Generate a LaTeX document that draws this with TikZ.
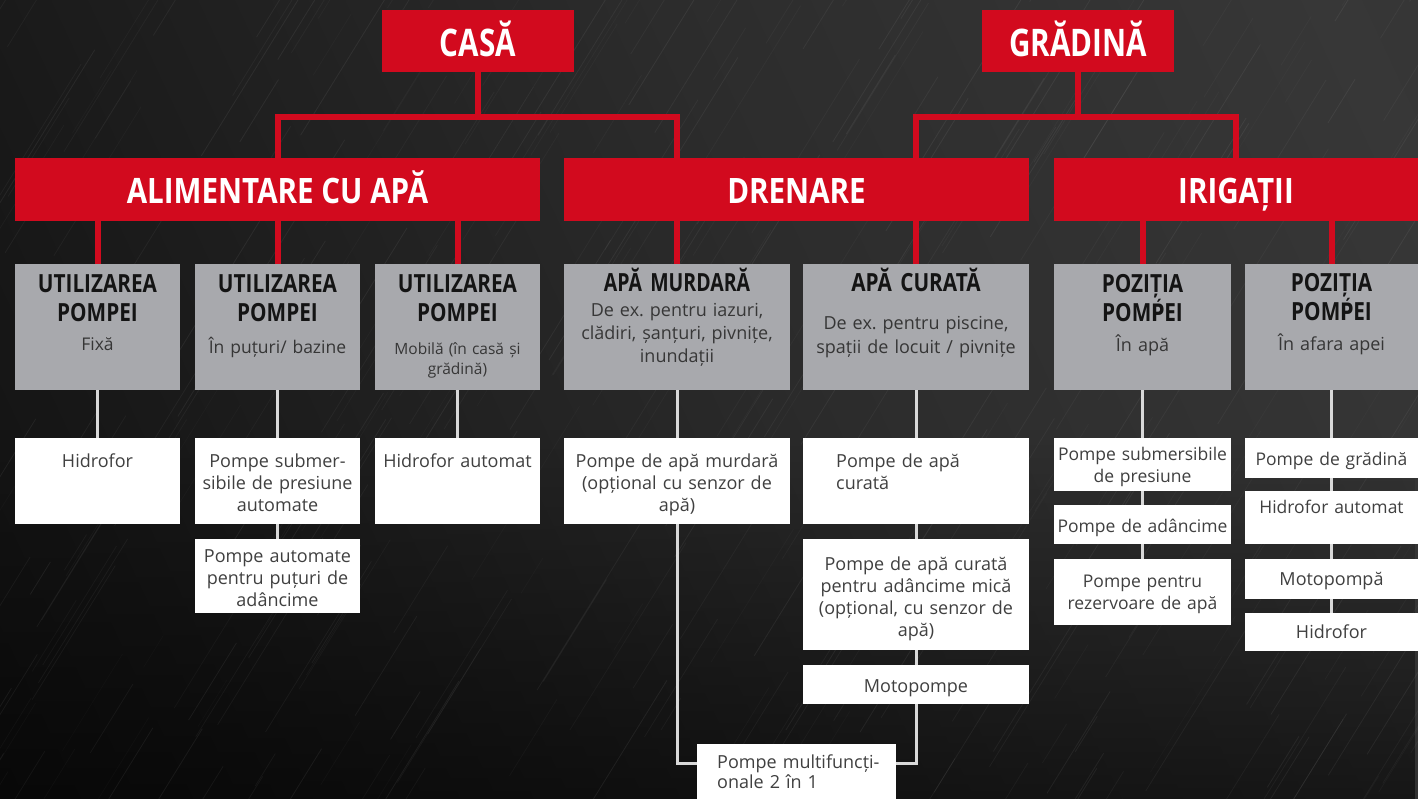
\documentclass[tikz,border=0pt]{standalone}
\usepackage{fontspec}
\setmainfont{Open Sans}
\newfontfamily\condfont{Open Sans}[FakeStretch=0.78]
\newfontfamily\condmid{Open Sans}[FakeStretch=0.83]
\newfontfamily\condwide{Open Sans}[FakeStretch=0.845]
\newfontfamily\djvcond{DejaVu Sans}[FakeStretch=0.74]
\usetikzlibrary{fadings}
\definecolor{brandred}{HTML}{D20A1E}
\definecolor{boxgrey}{HTML}{A8A9AD}
\definecolor{txtgrey}{HTML}{404040}
\definecolor{subgrey}{HTML}{363636}
\definecolor{titledark}{HTML}{141414}
\definecolor{wlinecol}{HTML}{D9D9D9}
\definecolor{bgA}{HTML}{0A0A0A}
\definecolor{bgB}{HTML}{161616}
\definecolor{bgC}{HTML}{2C2C2C}
\definecolor{bgD}{HTML}{373737}
\definecolor{bgE}{HTML}{2E2E2E}
\pgfdeclarehorizontalshading{bgshade}{100bp}{color(0bp)=(bgA); color(25bp)=(bgB); color(55bp)=(bgC); color(80bp)=(bgD); color(100bp)=(bgE)}
\tikzfading[name=fadeup, top color=transparent!100, bottom color=transparent!0]
\newcommand\Pacute{{\djvcond\bfseries\fontsize{24}{25}\selectfont Ṕ}}
\tikzset{
  sz/.style 2 args={minimum width=#1pt, minimum height=#2pt},
  redbox/.style={fill=brandred, inner sep=0pt, outer sep=0pt, anchor=north west, text=white,
    font=\condwide\bfseries\fontsize{35}{40}\selectfont, text height=30pt, text depth=1pt},
  topbox/.style={redbox, font=\condfont\bfseries\fontsize{38}{42}\selectfont, text height=33pt, text depth=1pt},
  greybox/.style={fill=boxgrey, inner sep=0pt, outer sep=0pt, anchor=north west},
  whitebox/.style={fill=white, inner sep=0pt, outer sep=0pt, anchor=north west},
  gtitle/.style={font=\condmid\bfseries\fontsize{25}{29}\selectfont, text=titledark, align=center,
    text width=180pt, inner sep=0pt, anchor=base},
  gsub/.style={font=\frenchspacing\fontsize{17.5}{23}\selectfont, text=subgrey, align=center,
    text width=230pt, inner sep=0pt, anchor=base},
  wtxt/.style={font=\fontsize{18}{22}\selectfont, text=txtgrey, align=center,
    text width=220pt, inner sep=0pt, anchor=base},
  redline/.style={draw=brandred, line width=6pt},
  whiteline/.style={draw=wlinecol, line width=3pt}
}
\begin{document}
\begin{tikzpicture}[x=1pt,y=-1pt]
\useasboundingbox (0,0) rectangle (1418,799);
% background
\shade[shading=bgshade, shading angle=25] (0,0) rectangle (1418,799);
\fill[black, opacity=0.55, path fading=fadeup] (0,430) rectangle (1418,799);
\begin{scope}
\clip (0,0) rectangle (1418,799);
\pgfmathsetseed{11}
\foreach \i in {1,...,450}{
  \pgfmathsetmacro\sx{rnd*1800-300}
  \pgfmathsetmacro\sy{rnd*950}
  \pgfmathsetmacro\len{30+rnd*160}
  \pgfmathsetmacro\op{0.02+rnd*0.045}
  \draw[white, opacity=\op, line width=0.8pt] (\sx,\sy) -- ++(0.62*\len,-\len);
}
\end{scope}

% top level
\node[topbox, sz={192}{62}] (casa) at (382,10) {CASĂ};
\node[topbox, sz={192}{62}] (gradina) at (982,10) {GRĂDINĂ};
% second level
\node[redbox, sz={525}{63}] (alim) at (15,158) {ALIMENTARE CU APĂ};
\node[redbox, sz={465}{63}] (dren) at (564,158) {DRENARE};
\node[redbox, sz={364}{63}] (irig) at (1054,158) {IRIGAȚII};

% grey boxes
\node[greybox, sz={165}{126}] (g1) at (15,264) {};
\node[greybox, sz={165}{126}] (g2) at (195,264) {};
\node[greybox, sz={165}{126}] (g3) at (375,264) {};
\node[greybox, sz={226}{126}] (g4) at (564,264) {};
\node[greybox, sz={226}{126}] (g5) at (803,264) {};
\node[greybox, sz={177}{126}] (g6) at (1054,264) {};
\node[greybox, sz={173}{126}] (g7) at (1245,264) {};

\node[gtitle] (g1t) at (g1.north |- 0,293) {UTILIZAREA\\POMPEI};
\node[gsub] (g1s) at (g1.north |- 0,351) {Fixă};
\node[gtitle] (g2t) at (g2.north |- 0,293) {UTILIZAREA\\POMPEI};
\node[gsub] (g2s) at (g2.north |- 0,353) {În puțuri/ bazine};
\node[gtitle] (g3t) at (g3.north |- 0,293) {UTILIZAREA\\POMPEI};
\node[gsub, font=\fontsize{15.5}{20}\selectfont] (g3s) at (g3.north |- 0,355) {Mobilă (în casă și\\grădină)};
\node[gtitle, text width=220pt, font=\condfont\bfseries\fontsize{25}{29}\selectfont] (g4t) at (g4.north |- 0,292) {APĂ MURDARĂ};
\node[gsub, text=titledark!85, font=\frenchspacing\fontsize{18}{23}\selectfont] (g4s) at (g4.north |- 0,317) {De ex. pentru iazuri,\\clădiri, șanțuri, pivnițe,\\inundații};
\node[gtitle, text width=220pt] (g5t) at (g5.north |- 0,292) {APĂ CURATĂ};
\node[gsub, font=\frenchspacing\fontsize{18}{24}\selectfont] (g5s) at (g5.north |- 0,330) {De ex. pentru piscine,\\spații de locuit / pivnițe};
\node[gtitle] (g6t) at (g6.north |- 0,293) {POZIȚIA\\POM\Pacute EI};
\node[gsub, font=\fontsize{18}{23}\selectfont] (g6s) at (g6.north |- 0,352) {În apă};
\node[gtitle, font=\condmid\bfseries\fontsize{25}{25}\selectfont] (g7t) at (g7.north |- 0,292) {POZIȚIA\\POM\Pacute EI};
\node[gsub, font=\fontsize{18}{23}\selectfont] (g7s) at (g7.north |- 0,350) {În afara apei};

% white boxes
\node[whitebox, sz={165}{86}] (w1) at (15,438) {};
\node[whitebox, sz={165}{86}] (w2) at (195,438) {};
\node[whitebox, sz={165}{74}] (w2b) at (195,539) {};
\node[whitebox, sz={165}{86}] (w3) at (375,438) {};
\node[whitebox, sz={226}{86}] (w4) at (564,438) {};
\node[whitebox, sz={226}{86}] (w5) at (803,438) {};
\node[whitebox, sz={226}{111}] (w5b) at (803,539) {};
\node[whitebox, sz={226}{39}] (w5c) at (803,665) {};
\node[whitebox, sz={199}{55}] (mf) at (697,744) {};
\node[whitebox, sz={177}{53}] (w6a) at (1054,438) {};
\node[whitebox, sz={177}{39}] (w6b) at (1054,505) {};
\node[whitebox, sz={177}{66}] (w6c) at (1054,559) {};
\node[whitebox, sz={173}{40}] (w7a) at (1245,438) {};
\node[whitebox, sz={173}{53}] (w7b) at (1245,491) {};
\node[whitebox, sz={173}{40}] (w7c) at (1245,559) {};
\node[whitebox, sz={173}{38}] (w7d) at (1245,613) {};

\node[wtxt] (w1t) at (w1.north |- 0,467) {Hidrofor};
\node[wtxt] (w2t) at (w2.north |- 0,467) {Pompe submer-\\sibile de presiune\\automate};
\node[wtxt] (w2bt) at (w2b.north |- 0,562) {Pompe automate\\pentru puțuri de\\adâncime};
\node[wtxt] (w3t) at (w3.north |- 0,467) {Hidrofor automat};
\node[wtxt] (w4t) at (w4.north |- 0,467) {Pompe de apă murdară\\(opțional cu senzor de\\apă)};
\node[wtxt, align=left, text width=170pt, anchor=base west] (w5t) at (836,467) {Pompe de apă\\curată};
\node[wtxt] (w5bt) at (w5b.north |- 0,570) {Pompe de apă curată\\pentru adâncime mică\\(opțional, cu senzor de\\apă)};
\node[wtxt] (w5ct) at (w5c.north |- 0,692) {Motopompe};
\node[wtxt, align=left, text width=175pt, anchor=base west, font=\fontsize{18}{20}\selectfont] (mft) at (717,768) {Pompe multifuncți-\\onale 2 în 1};
\node[wtxt, font=\fontsize{17.5}{22}\selectfont] (w6at) at (w6a.north |- 0,460) {Pompe submersibile\\de presiune};
\node[wtxt, font=\fontsize{17.5}{22}\selectfont] (w6bt) at (w6b.north |- 0,532) {Pompe de adâncime};
\node[wtxt, font=\fontsize{17.5}{22}\selectfont] (w6ct) at (w6c.north |- 0,587) {Pompe pentru\\rezervoare de apă};
\node[wtxt, font=\fontsize{17.5}{22}\selectfont] (w7at) at (w7a.north |- 0,465) {Pompe de grădină};
\node[wtxt, font=\fontsize{17.5}{22}\selectfont] (w7bt) at (w7b.north |- 0,513) {Hidrofor automat};
\node[wtxt] (w7ct) at (w7c.north |- 0,585) {Motopompă};
\node[wtxt] (w7dt) at (w7d.north |- 0,638) {Hidrofor};

% red connectors
\coordinate (hb) at (0,117);
\draw[redline] (casa.south) -- (casa.south |- hb);
\draw[redline] (alim.north) -- (alim.north |- hb) -- (g4.north |- hb) -- (dren.north -| g4.north);
\draw[redline] (gradina.south) -- (gradina.south |- hb);
\draw[redline] (dren.north -| g5.north) -- (g5.north |- hb) -- (irig.north |- hb) -- (irig.north);
\foreach \g/\p in {g1/alim, g2/alim, g3/alim, g4/dren, g5/dren, g6/irig, g7/irig}{
  \draw[redline] (\p.south -| \g.north) -- (\g.north);
}
% white connectors
\foreach \a/\b in {g1/w1, g2/w2, w2/w2b, g3/w3, g4/w4, g5/w5, w5/w5b, w5b/w5c, g6/w6a, w6a/w6b, w6b/w6c, g7/w7a, w7a/w7b, w7b/w7c, w7c/w7d}{
  \draw[whiteline] (\a.south) -- (\b.north);
}
\draw[whiteline] (w4.south) |- ([yshift=8pt]mf.west);
\draw[whiteline] (w5c.south) |- ([yshift=8pt]mf.east);
\end{tikzpicture}
\end{document}
